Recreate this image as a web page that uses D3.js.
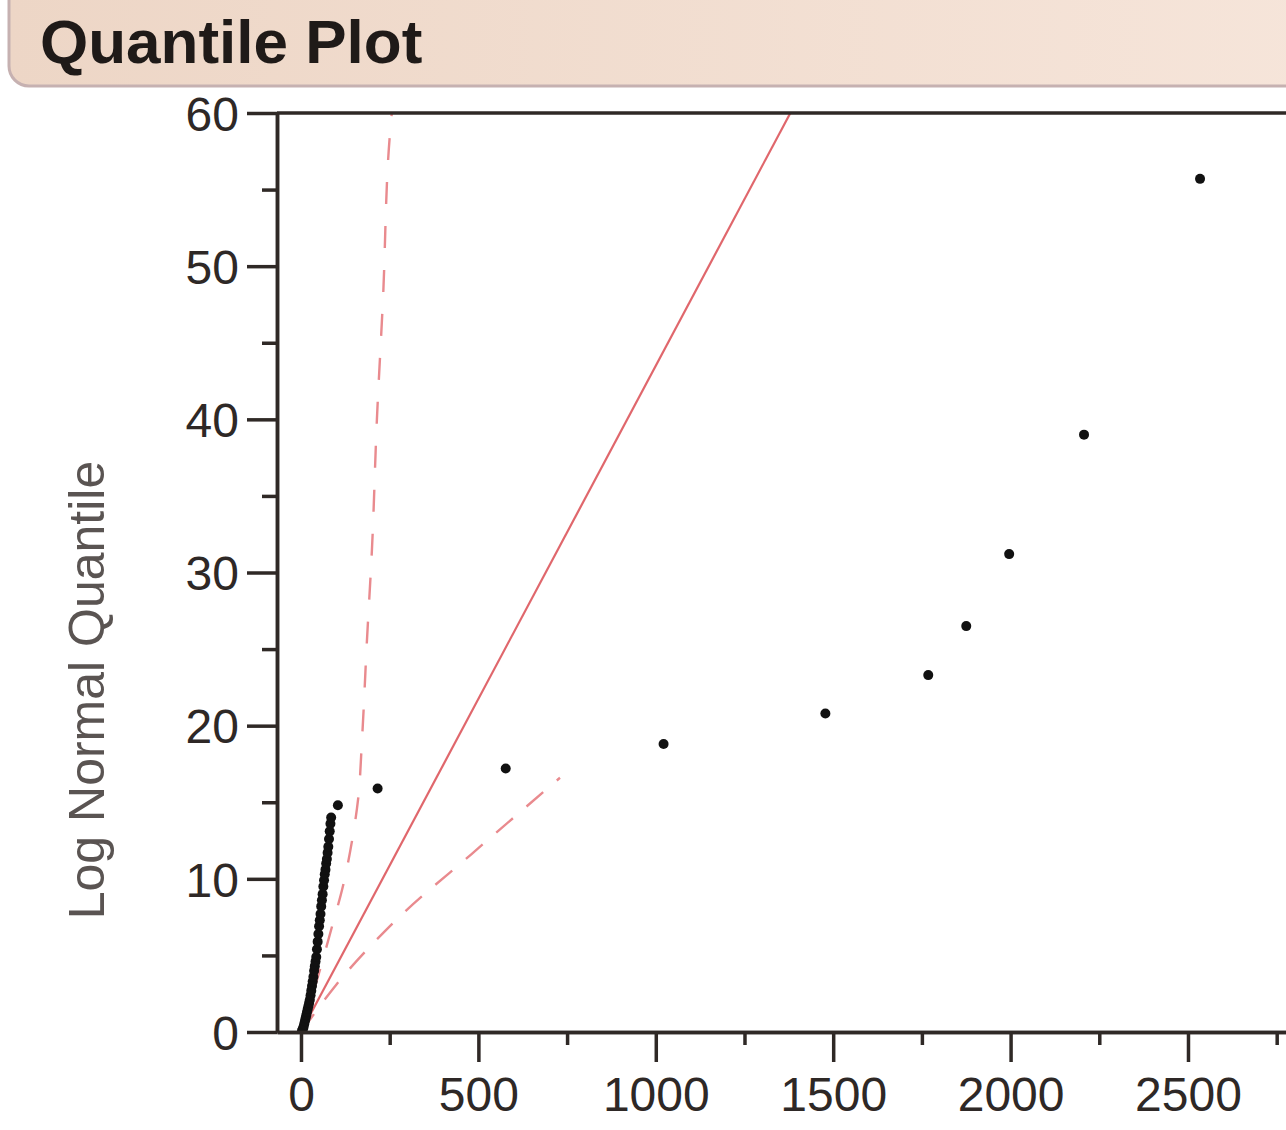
<!DOCTYPE html>
<meta charset="utf-8">
<script src="https://d3js.org/d3.v7.min.js"></script>
<style>
body { margin: 0; background: #fff; font-family: Arial, "Liberation Sans", sans-serif; }
</style>
<div id="chart"></div>
<script>
// size of the page
var width = 1286
var height = 1130

// data values
var quantX = [3,5,7,9,11,13,15,17,19,21,23,25,27,29,31,33,35,37,39,41,43,45,47,49,51,53,55,57,59,61,63,65,67,69,71,73,75,77,79,81,83,85,
              104,216,577,1022,1478,1768,1875,1996,2207,2534]
var quantY = [0.1,0.2,0.3,0.5,0.7,0.9,1.1,1.3,1.5,1.7,1.9,2.1,2.4,2.7,3.0,3.3,3.6,4.0,4.3,4.6,4.9,5.4,5.9,6.4,6.9,7.3,7.7,8.2,8.6,9.0,9.5,9.9,10.3,10.6,11.0,11.3,11.7,12.1,12.6,13.1,13.6,14.0,
              14.8,15.9,17.2,18.8,20.8,23.3,26.5,31.2,39.0,55.7]

// fitted line
var fitX = [0, 2800]
var fitY = [0, 121.8]

// confidence curves
var upperX = [0, 54, 90, 116, 144, 161, 172, 186, 200, 214, 231, 251, 256]
var upperY = [0, 4.1, 7.1, 9.3, 12.5, 15.2, 19.1, 25.6, 31.5, 40.0, 47.8, 58.7, 60]
var lowerX = [0, 100, 259, 480, 730]
var lowerY = [0, 3.1, 7.1, 11.6, 16.6]

// ticks
var xMajor = [0, 500, 1000, 1500, 2000, 2500]
var xMinor = [250, 750, 1250, 1750, 2250, 2750]
var yMajor = [0, 10, 20, 30, 40, 50, 60]
var yMinor = [5, 15, 25, 35, 45, 55]

var frameColor = "#2f2926"

var svg = d3.select("#chart")
  .append("svg")
    .attr("width", width)
    .attr("height", height)

// title bar
var defs = svg.append("defs")
var grad = defs.append("linearGradient")
    .attr("id", "titleGrad")
    .attr("x1", "0").attr("x2", "1").attr("y1", "0").attr("y2", "0")
grad.append("stop").attr("offset", "0").attr("stop-color", "#edd6c6")
grad.append("stop").attr("offset", "1").attr("stop-color", "#f6e5da")

svg.append("rect")
    .attr("x", 9)
    .attr("y", -30)
    .attr("width", 1320)
    .attr("height", 116)
    .attr("rx", 20)
    .style("fill", "url(#titleGrad)")
    .style("stroke", "#c6b1b1")
    .style("stroke-width", 3)

svg.append("text")
    .attr("x", 40)
    .attr("y", 63)
    .text("Quantile Plot")
    .style("font-size", "62px")
    .style("font-weight", "bold")
    .style("fill", "#1f1a18")

// scales
var x = d3.scaleLinear()
  .domain([-67.6, 2900])
  .range([277, 277 + 2967.6 * 0.3548])

var y = d3.scaleLinear()
  .domain([0, 60])
  .range([1032, 113])

var plot = svg.append("g")

defs.append("clipPath")
    .attr("id", "plotClip")
  .append("rect")
    .attr("x", 277)
    .attr("y", 113)
    .attr("width", 1100)
    .attr("height", 1032 - 113)

var marks = plot.append("g").attr("clip-path", "url(#plotClip)")

var line = d3.line()
  .x(function(d){ return x(d[0]) })
  .y(function(d){ return y(d[1]) })

var curve = d3.line()
  .x(function(d){ return x(d[0]) })
  .y(function(d){ return y(d[1]) })
  .curve(d3.curveMonotoneY)

// red reference lines
marks.append("path")
    .datum(d3.zip(upperX, upperY))
    .attr("d", curve)
    .style("fill", "none")
    .style("stroke", "#e98a8e")
    .style("stroke-width", 2.4)
    .style("stroke-dasharray", "22,22")

marks.append("path")
    .datum(d3.zip(lowerX, lowerY))
    .attr("d", d3.line().x(function(d){ return x(d[0]) }).y(function(d){ return y(d[1]) }).curve(d3.curveMonotoneX))
    .style("fill", "none")
    .style("stroke", "#e98a8e")
    .style("stroke-width", 2.4)
    .style("stroke-dasharray", "22,18")

marks.append("path")
    .datum(d3.zip(fitX, fitY))
    .attr("d", line)
    .style("fill", "none")
    .style("stroke", "#e0676c")
    .style("stroke-width", 2.2)

// points
marks.append("g")
  .selectAll("circle")
  .data(d3.zip(quantX, quantY))
  .enter()
  .append("circle")
    .attr("cx", function(d){ return x(d[0]) })
    .attr("cy", function(d){ return y(d[1]) })
    .attr("r", 5)
    .style("fill", "#111")

// axes
function styleAxis(g) {
  g.selectAll(".domain").style("stroke", frameColor).style("stroke-width", 3.5)
  g.selectAll(".tick line").style("stroke", frameColor).style("stroke-width", 3.5)
  g.selectAll("text")
    .style("font-family", "Arial, 'Liberation Sans', sans-serif")
    .style("font-size", "48px")
    .style("fill", "#2e2826")
}

var yAxisMinor = plot.append("g")
    .attr("transform", "translate(277,0)")
    .call(d3.axisLeft(y).tickValues(yMinor).tickSize(15).tickSizeOuter(0).tickFormat(""))
styleAxis(yAxisMinor)

var yAxis = plot.append("g")
    .attr("transform", "translate(277,0)")
    .call(d3.axisLeft(y).tickValues(yMajor).tickSize(30).tickSizeOuter(0).tickPadding(8).tickFormat(d3.format("d")))
styleAxis(yAxis)
yAxis.selectAll("text").attr("dy", "0.36em")

var xAxisMinor = plot.append("g")
    .attr("transform", "translate(0,1032)")
    .call(d3.axisBottom(x).tickValues(xMinor).tickSize(13).tickSizeOuter(0).tickFormat(""))
styleAxis(xAxisMinor)

var xAxis = plot.append("g")
    .attr("transform", "translate(0,1032)")
    .call(d3.axisBottom(x).tickValues(xMajor).tickSize(30).tickSizeOuter(0).tickPadding(15).tickFormat(d3.format("d")))
styleAxis(xAxis)

// top frame line
plot.append("line")
    .attr("x1", 277)
    .attr("x2", width)
    .attr("y1", y(60))
    .attr("y2", y(60))
    .style("stroke", frameColor)
    .style("stroke-width", 3.5)

// y axis label
svg.append("text")
    .attr("transform", "translate(104,690) rotate(-90)")
    .attr("text-anchor", "middle")
    .text("Log Normal Quantile")
    .style("font-size", "50px")
    .style("fill", "#5a5452")
</script>
